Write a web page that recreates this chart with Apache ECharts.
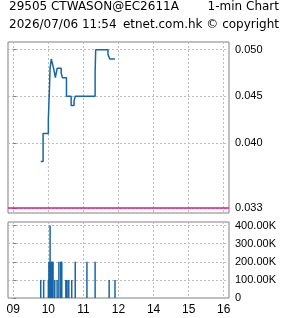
<!DOCTYPE html>
<html>
<head>
<meta charset="utf-8">
<script src="https://cdn.jsdelivr.net/npm/echarts@6/dist/echarts.min.js"></script>
<style>
html,body{margin:0;padding:0;background:#fff;}
#c{width:285px;height:318px;}
</style>
</head>
<body>
<div id="c"></div>
<script>
// ---- data ----
var titleLeft1 = '29505 CTWASON@EC2611A';
var titleRight1 = '1-min Chart';
var titleLeft2 = '2026/07/06 11:54';
var titleRight2 = 'etnet.com.hk \u00a9 copyright';

var priceTimes = ['09:47','09:51','10:00','10:02','10:03','10:05','10:07','10:09','10:12','10:15','10:22','10:24','10:31','10:39','10:44','10:46','11:20','11:21','11:42','11:45','11:54'];
var priceValues = [0.038,0.041,0.0425,0.046,0.048,0.049,0.0485,0.048,0.047,0.048,0.0475,0.047,0.045,0.044,0.0445,0.045,0.0475,0.050,0.0495,0.049,0.049];
var prevClose = 0.033;

var volTimes = ['09:47','09:52','10:00','10:01','10:02','10:03','10:04','10:05','10:06','10:07','10:08','10:11','10:15','10:18','10:21','10:22','10:23','10:30','10:31','10:32','10:35','10:40','10:46','11:06','11:20','11:44','11:54'];
var volValues = [100000,100000,100000,200000,200000,400000,200000,200000,200000,200000,200000,100000,100000,200000,200000,200000,200000,100000,100000,100000,100000,100000,200000,200000,200000,100000,100000];

var xTickTimes = ['09:00','10:00','11:00','13:00','14:00','15:00','16:00'];
var xTickLabels = ['09','10','11','12','14','15','16'];
var priceTicks = [0.033,0.040,0.045,0.050];
var volTicks = [0,100000,200000,300000,400000];
var axisStart = -9, axisEnd = 369;

// ---- helpers ----
function toMin(t){
  var p = t.split(':'); var h = +p[0], m = +p[1];
  var v = (h-9)*60 + m;
  if (h >= 13) v -= 60; // lunch break removed
  return v;
}
var xTickVals = xTickTimes.map(toMin);
var priceData = priceTimes.map(function(t,i){return [toMin(t), priceValues[i]];});
var volData = volTimes.map(function(t,i){return [toMin(t), volValues[i]];});
var prevCloseData = [[axisStart, prevClose],[axisEnd, prevClose]];

var LABEL_FONT = "'Liberation Sans',sans-serif";
var TITLE_FONT = "'DejaVu Sans',sans-serif";
var GRAY = '#808080';
var GRIDC = '#bdbdbd';
var BLUE = '#1767a6';

var chart = echarts.init(document.getElementById('c'), null, {renderer:'canvas'});
var dashed = {show:true, lineStyle:{color:GRIDC, type:[2,2], width:1}};

chart.setOption({
  animation:false,
  backgroundColor:'#fff',
  title:[
    {text:titleLeft1, left:9, top:1, padding:0, textStyle:{fontFamily:TITLE_FONT,fontSize:12,fontWeight:'normal',color:'#000'}},
    {text:titleRight1, right:6, top:1, padding:0, textStyle:{fontFamily:TITLE_FONT,fontSize:12,fontWeight:'normal',color:'#000'}},
    {text:titleLeft2, left:9, top:19, padding:0, textStyle:{fontFamily:TITLE_FONT,fontSize:12,fontWeight:'normal',color:'#000'}},
    {text:titleRight2, right:6, top:19, padding:0, textStyle:{fontFamily:TITLE_FONT,fontSize:12,fontWeight:'normal',color:'#000'}}
  ],
  grid:[
    {left:8, top:42, width:221, height:171, show:true, borderColor:GRAY, borderWidth:1, backgroundColor:'transparent'},
    {left:8, top:222, width:221, height:76, show:true, borderColor:GRAY, borderWidth:1, backgroundColor:'transparent'}
  ],
  xAxis:[
    {type:'value', gridIndex:0, min:axisStart, max:axisEnd,
     axisLine:{show:false}, axisTick:{show:false, customValues:xTickVals},
     axisLabel:{show:false, customValues:xTickVals}, splitLine:dashed},
    {type:'value', gridIndex:1, min:axisStart, max:axisEnd,
     axisLine:{show:false}, axisTick:{show:false, customValues:xTickVals},
     axisLabel:{show:true, customValues:xTickVals, margin:6, color:'#000', fontFamily:LABEL_FONT, fontSize:12,
       formatter:function(v){var i = xTickVals.indexOf(v); return i>=0 ? xTickLabels[i] : '';}},
     splitLine:dashed}
  ],
  yAxis:[
    {type:'value', gridIndex:0, position:'right', min:0.03246, max:0.05083,
     axisLine:{show:false},
     axisTick:{show:true, length:3, inside:false, customValues:priceTicks, lineStyle:{color:GRAY}},
     axisLabel:{show:true, customValues:priceTicks, margin:6, color:'#000', fontFamily:LABEL_FONT, fontSize:11,
       formatter:function(v){return v.toFixed(3);}},
     splitLine:dashed},
    {type:'value', gridIndex:1, position:'right', min:0, max:420000,
     axisLine:{show:false},
     axisTick:{show:true, length:3, inside:false, customValues:volTicks, lineStyle:{color:GRAY}},
     axisLabel:{show:true, customValues:volTicks, margin:6, color:'#000', fontFamily:LABEL_FONT, fontSize:11,
       formatter:function(v){return v===0 ? '0' : (v/1000).toFixed(2)+'K';}},
     splitLine:dashed}
  ],
  series:[
    {type:'line', xAxisIndex:0, yAxisIndex:0, data:prevCloseData, showSymbol:false, silent:true,
     lineStyle:{color:'#ee1480', width:1.5}, z:2},
    {type:'line', xAxisIndex:0, yAxisIndex:0, data:priceData, step:'end', showSymbol:false,
     lineStyle:{color:BLUE, width:1.5}, z:3},
    {type:'bar', xAxisIndex:1, yAxisIndex:1, data:volData, barWidth:1.5,
     itemStyle:{color:BLUE}, z:3}
  ]
});
</script>
</body>
</html>
